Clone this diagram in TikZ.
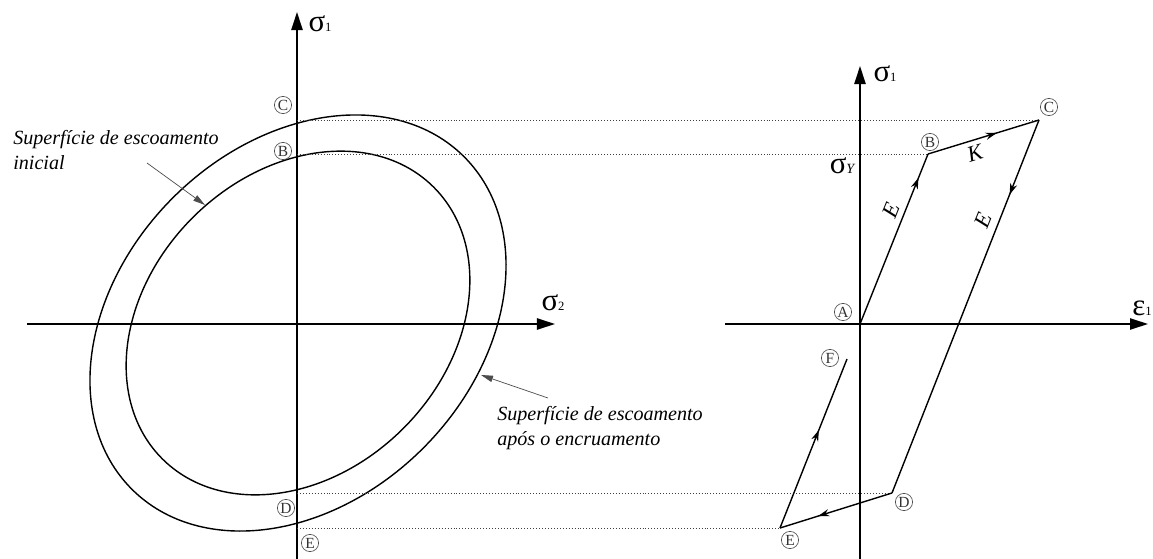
\documentclass[tikz,border=0pt]{standalone}
\usepackage{fontspec}
\setmainfont{Liberation Serif}
\usetikzlibrary{arrows.meta,positioning,calc,decorations.markings}

\newcommand{\sbs}[1]{{\fontsize{9}{9}\selectfont #1}}

\begin{document}
\begin{tikzpicture}[
  x=0.025cm,y=-0.025cm,
  axis/.style={draw=black,line width=1.3pt,-{Triangle[length=4.5mm,width=2.8mm]}},
  surf/.style={draw=black,line width=1pt},
  load/.style={draw=black,line width=1pt},
  proj/.style={draw=black!75,line width=0.7pt,dash pattern=on 0.7pt off 1.4pt},
  lead/.style={draw=black!70,line width=0.5pt,-{Triangle[length=3mm,width=1.6mm]}},
  mid/.style={postaction={decorate},decoration={markings,
      mark=at position #1 with {\arrow{Stealth[length=2.8mm,width=1.8mm]}}}},
  pt/.style={circle,draw=black!70,line width=0.45pt,inner sep=0pt,minimum size=4.3mm,
      font=\fontsize{11}{11}\selectfont,text=black!80},
  note/.style={font=\fontsize{14.3}{17.8}\selectfont\itshape,align=left,inner sep=0pt},
  sym/.style={font=\fontsize{22}{22}\selectfont,inner sep=0pt},
  lbl/.style={font=\fontsize{16}{16}\selectfont\itshape,inner sep=0pt}
]
\useasboundingbox (0,0) rectangle (1153,559);

% ---- yield surfaces ----
\coordinate (o1) at (298,323);
\draw[surf,rotate around={45:(o1)}] (o1) ellipse [x radius=235,y radius=177];
\draw[surf,rotate around={45:(o1)}] (o1) ellipse [x radius=192,y radius=149];

% ---- left axes ----
\coordinate (h1) at (27,324);  \coordinate (h2) at (555,324);
\coordinate (v1) at (297,559); \coordinate (v2) at (297,12);
\draw[axis] (h1) -- (h2);
\draw[axis] (v1) -- (v2);
\node[sym] (s1) at (320,24) {σ\sbs{1}};
\node[sym] (s2) at (553,303) {σ\sbs{2}};

% ---- stress path points ----
\coordinate (A) at (860,324);
\coordinate (B) at (928,154);
\coordinate (C) at (1039,120);
\coordinate (D) at (892,493);
\coordinate (E) at (780,528);
\coordinate (F) at (847,359);

% projections onto the sigma_1 axis
\coordinate (cl) at (297,120); \coordinate (bl) at (297,154);
\coordinate (dl) at (297,493); \coordinate (el) at (297,528);
\draw[proj] (cl) -- (C);
\draw[proj] (bl) -- (B);
\draw[proj] (dl) -- (D);
\draw[proj] (el) -- (E);

% ---- right axes ----
\coordinate (g1) at (725,324);  \coordinate (g2) at (1148,324);
\coordinate (w1) at (860,559);  \coordinate (w2) at (860,66);
\draw[axis] (g1) -- (g2);
\draw[axis] (w1) -- (w2);
\node[sym] (s1r) at (885,74) {σ\sbs{1}};
\node[sym] (e1) at (1142,308) {ε\sbs{1}};
\node[sym] (sy) at (842,166) {σ{\fontsize{10}{10}\selectfont\itshape Y}};

% ---- loading path ----
\draw[load,mid=0.86] (A) -- (B);
\draw[load,mid=0.62] (B) -- (C);
\draw[load,mid=0.20] (C) -- (D);
\draw[load,mid=0.66] (D) -- (E);
\draw[load,mid=0.58] (E) -- (F);

\node[lbl,rotate=68] (ke1) at (891,210) {E};
\node[lbl,rotate=68] (ke2) at (983,220) {E};
\node[lbl,rotate=17] (kk)  at (975,153) {K};

% ---- point labels ----
\node[pt] (lc) at (283,105) {C};
\node[pt] (lb) at (283,151) {B};
\node[pt] (ld) at (286,508) {D};
\node[pt] (le) at (310,543) {E};
\node[pt] (ra) at (843,312) {A};
\node[pt] (rb) at (930,142) {B};
\node[pt] (rc) at (1049,107) {C};
\node[pt] (rd) at (904,502) {D};
\node[pt] (re) at (790,540) {E};
\node[pt] (rf) at (830,358) {F};

% ---- notes ----
\node[note,anchor=west] (n1) at (13,150) {Superfície de escoamento\\inicial};
\coordinate (n1s) at (147,163); \coordinate (n1e) at (205,205);
\draw[lead] (n1s) -- (n1e);

\node[note,anchor=west] (n2) at (497,428) {Superfície de escoamento\\após o encruamento};
\coordinate (n2s) at (548,398); \coordinate (n2e) at (481,375);
\draw[lead] (n2s) -- (n2e);

\end{tikzpicture}
\end{document}
